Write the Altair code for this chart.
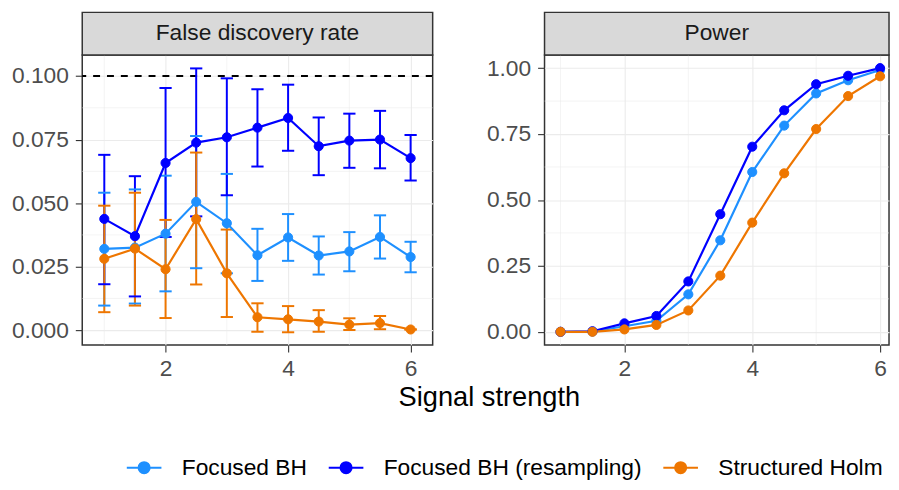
import altair as alt
import pandas as pd

signal = [1, 1.5, 2, 2.5, 3, 3.5, 4, 4.5, 5, 5.5, 6]
methods = ["Focused BH", "Focused BH (resampling)", "Structured Holm"]
colors = ["#1E90FF", "#0000FF", "#EE7600"]
panels = ["False discovery rate", "Power"]

# False discovery rate: estimate, lower, upper
fdr_bh = [0.0320, 0.0325, 0.0380, 0.0505, 0.0421, 0.0295, 0.0365, 0.0294, 0.0310, 0.0367, 0.0288]
fdr_bh_lo = [0.0097, 0.0105, 0.0153, 0.0244, 0.0224, 0.0194, 0.0273, 0.0219, 0.0232, 0.0282, 0.0228]
fdr_bh_hi = [0.0541, 0.0554, 0.0608, 0.0764, 0.0615, 0.0399, 0.0457, 0.0369, 0.0386, 0.0452, 0.0348]

fdr_rs = [0.0438, 0.0370, 0.0658, 0.0738, 0.0759, 0.0797, 0.0835, 0.0724, 0.0746, 0.0750, 0.0677]
fdr_rs_lo = [0.0181, 0.0133, 0.0367, 0.0448, 0.0531, 0.0644, 0.0706, 0.0610, 0.0639, 0.0637, 0.0589]
fdr_rs_hi = [0.0690, 0.0606, 0.0953, 0.1030, 0.0991, 0.0948, 0.0966, 0.0837, 0.0852, 0.0863, 0.0768]

fdr_holm = [0.0281, 0.0321, 0.0240, 0.0437, 0.0224, 0.0051, 0.0043, 0.0034, 0.0022, 0.0028, 0.0003]
fdr_holm_lo = [0.0071, 0.0097, 0.0048, 0.0180, 0.0052, -0.0006, -0.0008, -0.0006, 0.0001, 0.0004, 0.0003]
fdr_holm_hi = [0.0490, 0.0541, 0.0434, 0.0699, 0.0396, 0.0106, 0.0095, 0.0079, 0.0047, 0.0056, 0.0003]

# Power
pow_bh = [0.000, 0.001, 0.021, 0.042, 0.142, 0.347, 0.606, 0.782, 0.904, 0.954, 0.993]
pow_rs = [0.000, 0.002, 0.032, 0.060, 0.191, 0.446, 0.702, 0.840, 0.939, 0.971, 1.000]
pow_holm = [0.000, 0.000, 0.009, 0.026, 0.081, 0.213, 0.414, 0.601, 0.769, 0.894, 0.969]

fdr_target = [0.1]
x_ticks = [2, 4, 6]
x_minor = [1, 3, 5]
fdr_ticks = [0.0, 0.025, 0.05, 0.075, 0.1]
fdr_minor = [0.0125, 0.0375, 0.0625, 0.0875]
pow_ticks = [0.0, 0.25, 0.5, 0.75, 1.0]
pow_minor = [0.125, 0.375, 0.625, 0.875]

rows = []
for m, est, lo, hi in zip(methods, [fdr_bh, fdr_rs, fdr_holm],
                          [fdr_bh_lo, fdr_rs_lo, fdr_holm_lo],
                          [fdr_bh_hi, fdr_rs_hi, fdr_holm_hi]):
    for s, e, l, h in zip(signal, est, lo, hi):
        rows.append({"signal": s, "method": m, "value": e, "lo": l, "hi": h})
fdr_df = pd.DataFrame(rows)

rows = []
for m, est in zip(methods, [pow_bh, pow_rs, pow_holm]):
    for s, e in zip(signal, est):
        rows.append({"signal": s, "method": m, "value": e})
pow_df = pd.DataFrame(rows)

FONT = "Liberation Sans"
FS = 23
W_L, W_R, H = 354, 348, 293
STRIP_H = 43

color_scale = alt.Scale(domain=methods, range=colors)
sym_path = "M-1,0L1,0M0.314,0A0.314,0.314,0,1,1,-0.314,0A0.314,0.314,0,1,1,0.314,0Z"
legend = alt.Legend(
    title=None, orient="none", legendX=43.5, legendY=406, direction="horizontal",
    symbolType=sym_path, symbolSize=1225, symbolStrokeWidth=2.2, symbolOpacity=1,
    clipHeight=22,
    labelFont=FONT, labelFontSize=FS, labelColor="#000000", labelOffset=19,
    columnPadding=20, padding=0, labelLimit=400,
)


def axis_x(title=None, **kw):
    return alt.Axis(values=x_ticks, format="d", title=title, grid=True, domain=False,
                    labelFont=FONT, labelFontSize=FS, labelColor="#4d4d4d",
                    tickColor="#333333", tickWidth=1.1, tickSize=7, labelPadding=6,
                    gridColor="#ebebeb", gridWidth=1.1, **kw)


def axis_y(values, fmt):
    return alt.Axis(values=values, format=fmt, title=None, grid=True, domain=False,
                    labelFont=FONT, labelFontSize=FS, labelColor="#4d4d4d",
                    tickColor="#333333", tickWidth=1.1, tickSize=7, labelPadding=7,
                    gridColor="#ebebeb", gridWidth=1.1)


def strip(title, width):
    d = pd.DataFrame({"panel": [title]})
    box = alt.Chart(d).mark_rect(clip=False, fill="#d9d9d9", stroke="#333333",
                                 strokeWidth=1.5).encode(
        x=alt.value(0), x2=alt.value(width), y=alt.value(-STRIP_H), y2=alt.value(0))
    txt = alt.Chart(d).mark_text(clip=False, font=FONT, fontSize=FS, color="#1a1a1a",
                                 baseline="middle", align="center").encode(
        x=alt.value(width / 2), y=alt.value(-STRIP_H / 2 - 0.5), text="panel:N")
    return box + txt


# ---------- left panel: FDR ----------
xs_l = alt.Scale(domain=[0.64, 6.36], nice=False, zero=False)
ys_l = alt.Scale(domain=[-0.0058, 0.1083], nice=False, zero=False)

minor_xl = alt.Chart(pd.DataFrame({"gx": x_minor})).mark_rule(
    color="#ebebeb", strokeWidth=0.55).encode(x=alt.X("gx:Q", scale=xs_l))
minor_yl = alt.Chart(pd.DataFrame({"gy": fdr_minor})).mark_rule(
    color="#ebebeb", strokeWidth=0.55).encode(y=alt.Y("gy:Q", scale=ys_l))
hline = alt.Chart(pd.DataFrame({"t": fdr_target})).mark_rule(
    color="#000000", strokeWidth=2, strokeDash=[7, 7]).encode(
    y=alt.Y("t:Q", scale=ys_l))

base_l = alt.Chart(fdr_df)
err_v = base_l.mark_rule(strokeWidth=2).encode(
    x=alt.X("signal:Q", scale=xs_l,
            axis=axis_x("Signal strength", titleX=410.8, titleY=61.3, titleFont=FONT,
                        titleFontSize=27.5, titleColor="#000000", titleFontWeight="normal",
                        titleBaseline="alphabetic", titleAlign="center", titleAngle=0)),
    y=alt.Y("lo:Q", scale=ys_l, axis=axis_y(fdr_ticks, ".3f")),
    y2="hi:Q",
    stroke=alt.Stroke("method:N", scale=color_scale),
)
caps = base_l.transform_calculate(x1="datum.signal - 0.1", x2="datum.signal + 0.1")
cap_lo = caps.mark_rule(strokeWidth=2).encode(
    x=alt.X("x1:Q", scale=xs_l), x2="x2:Q",
    y=alt.Y("lo:Q", scale=ys_l),
    stroke=alt.Stroke("method:N", scale=color_scale))
cap_hi = caps.mark_rule(strokeWidth=2).encode(
    x=alt.X("x1:Q", scale=xs_l), x2="x2:Q",
    y=alt.Y("hi:Q", scale=ys_l),
    stroke=alt.Stroke("method:N", scale=color_scale))
line_l = base_l.mark_line(strokeWidth=2.2).encode(
    x=alt.X("signal:Q", scale=xs_l),
    y=alt.Y("value:Q", scale=ys_l),
    stroke=alt.Stroke("method:N", scale=color_scale),
    detail="method:N")
pts_l = base_l.mark_point(filled=True, size=85, opacity=1, strokeWidth=1).encode(
    x=alt.X("signal:Q", scale=xs_l),
    y=alt.Y("value:Q", scale=ys_l),
    fill=alt.Fill("method:N", scale=color_scale, legend=legend),
    stroke=alt.Stroke("method:N", scale=color_scale, legend=legend))

left = alt.layer(minor_xl, minor_yl, hline, err_v, cap_lo, cap_hi, line_l, pts_l,
                 strip(panels[0], W_L)).properties(width=W_L, height=H)

# ---------- right panel: Power ----------
xs_r = alt.Scale(domain=[0.75, 6.14], nice=False, zero=False)
ys_r = alt.Scale(domain=[-0.05, 1.05], nice=False, zero=False)

minor_xr = alt.Chart(pd.DataFrame({"gx": x_minor})).mark_rule(
    color="#ebebeb", strokeWidth=0.55).encode(x=alt.X("gx:Q", scale=xs_r))
minor_yr = alt.Chart(pd.DataFrame({"gy": pow_minor})).mark_rule(
    color="#ebebeb", strokeWidth=0.55).encode(y=alt.Y("gy:Q", scale=ys_r))
base_r = alt.Chart(pow_df)
line_r = base_r.mark_line(strokeWidth=2.2).encode(
    x=alt.X("signal:Q", scale=xs_r, axis=axis_x()),
    y=alt.Y("value:Q", scale=ys_r, axis=axis_y(pow_ticks, ".2f")),
    stroke=alt.Stroke("method:N", scale=color_scale),
    detail="method:N")
pts_r = base_r.mark_point(filled=True, size=85, opacity=1, strokeWidth=1).encode(
    x=alt.X("signal:Q", scale=xs_r),
    y=alt.Y("value:Q", scale=ys_r),
    fill=alt.Fill("method:N", scale=color_scale),
    stroke=alt.Stroke("method:N", scale=color_scale))

right = alt.layer(minor_xr, minor_yr, line_r, pts_r,
                  strip(panels[1], W_R)).properties(width=W_R, height=H)

chart = alt.hconcat(left, right, spacing=113, bounds="flush").properties(
    padding={"left": 2, "top": 0, "right": 0, "bottom": 0}, background="white"
).configure_view(stroke="#333333", strokeWidth=1.5)

chart.save("out.html", embed_options={"renderer": "svg", "actions": False})
